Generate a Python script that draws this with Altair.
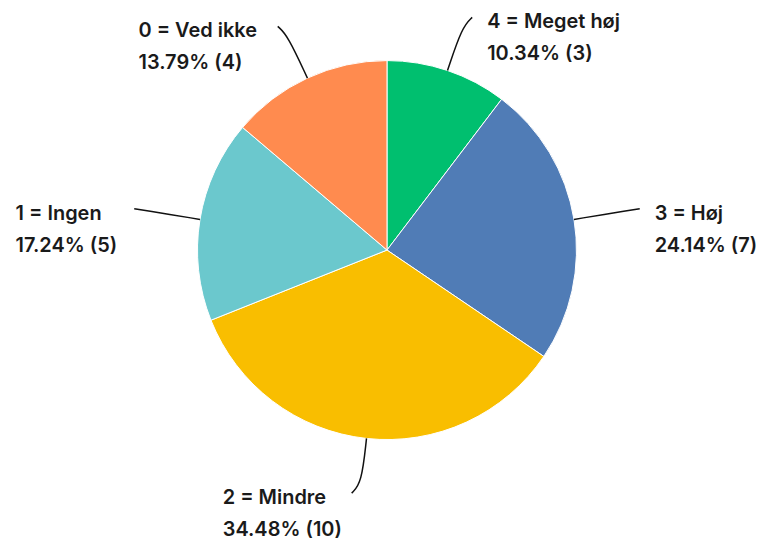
import math
import altair as alt
import pandas as pd

# ---- data ----
categories = ["4 = Meget høj", "3 = Høj", "2 = Mindre", "1 = Ingen", "0 = Ved ikke"]
counts = [3, 7, 10, 5, 4]
colors = ["#00BF6F", "#507CB6", "#F9BE00", "#6BC8CD", "#FF8B4F"]

# ---- layout ----
W, H = 750, 526
CX, CY = 380, 242
R = 190
FONT = "Inter"
FS = 20
CHAR_W = 10.3
LINE_GAP = 32

total = sum(counts)
pct = [f"{c / total * 100:.2f}% ({c})" for c in counts]

pie_df = pd.DataFrame({"cat": categories, "count": counts, "idx": list(range(len(categories)))})

# leader lines and label anchors derived from slice mid-angles
line_rows, text_rows = [], []
cum = 0
for i, (cat, c) in enumerate(zip(categories, counts)):
    a = (cum + c / 2) / total * 2 * math.pi
    cum += c
    ux, uy = math.sin(a), -math.cos(a)
    L = 45 + 12 * ux * ux
    p0 = (CX + R * ux, CY + R * uy)
    p1 = (CX + (R + L) * ux, CY + (R + L) * uy)
    sx = 1 if ux > 0 else -1
    p2 = (p1[0] + sx * 10, p1[1] + 10 * uy)
    for k, p in enumerate([p0, p1, p2]):
        line_rows.append({"cat": cat, "k": k, "px": p[0], "py": p[1]})
    maxlen = max(len(cat), len(pct[i]))
    tx = p2[0] + 15 if sx > 0 else p2[0] - 16 - CHAR_W * maxlen
    ty = p2[1] + 5
    text_rows.append({"cat": cat, "tx": tx, "ty": ty, "line": cat})
    text_rows.append({"cat": cat, "tx": tx, "ty": ty + LINE_GAP, "line": pct[i]})

line_df = pd.DataFrame(line_rows)
text_df = pd.DataFrame(text_rows)

xs = alt.Scale(domain=[0, W], range=[0, W])
ys = alt.Scale(domain=[0, H], range=[0, H])

pie = alt.Chart(pie_df).mark_arc(radius=R, stroke="white", strokeWidth=1).encode(
    theta=alt.Theta("count:Q", stack=True),
    color=alt.Color("cat:N", scale=alt.Scale(domain=categories, range=colors), legend=None),
    order=alt.Order("idx:Q"),
    x=alt.value(CX),
    y=alt.value(CY),
)

lines = alt.Chart(line_df).mark_line(color="#111111", strokeWidth=1.5, interpolate="basis").encode(
    x=alt.X("px:Q", scale=xs, axis=None),
    y=alt.Y("py:Q", scale=ys, axis=None),
    detail="cat:N",
    order="k:Q",
)

texts = alt.Chart(text_df).mark_text(
    align="left", baseline="middle", font=FONT, fontSize=FS, fontWeight=600, color="#1a1a1a"
).encode(
    x=alt.X("tx:Q", scale=xs, axis=None),
    y=alt.Y("ty:Q", scale=ys, axis=None),
    text="line:N",
)

chart = alt.layer(pie, lines, texts).properties(
    width=W, height=H, padding=0
).configure_view(stroke=None)

chart.save("out.html", embed_options={"renderer": "svg", "actions": False})
